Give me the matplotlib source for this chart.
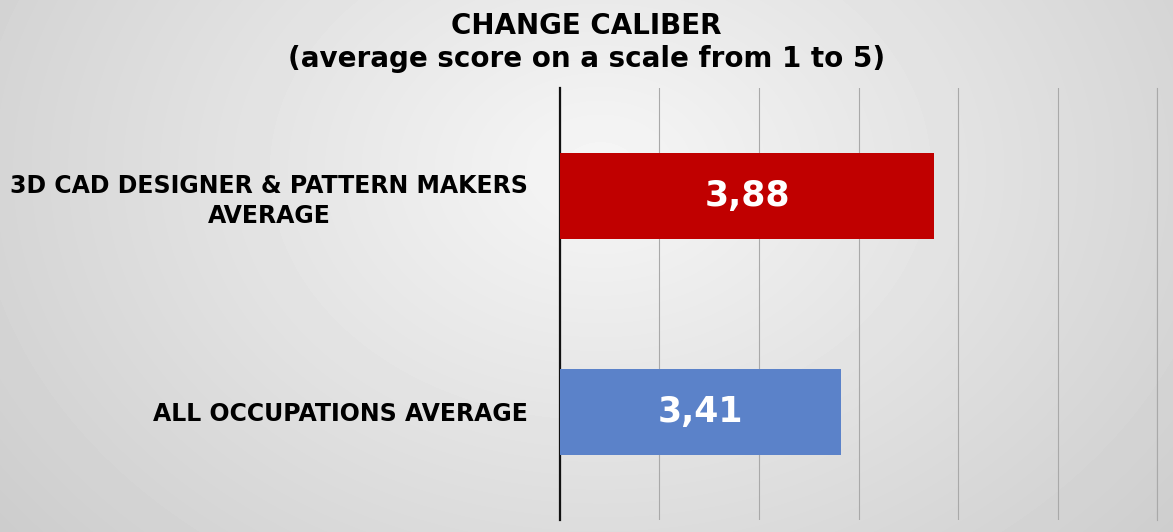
import numpy as np
import matplotlib
matplotlib.use('Agg')
import matplotlib.pyplot as plt

categories = ['ALL OCCUPATIONS AVERAGE', '3D CAD DESIGNER & PATTERN MAKERS\nAVERAGE']
values = [3.41, 3.88]
value_labels = ['3,41', '3,88']
colors = ['#5b82c9', '#c00000']
x_start, x_end, x_step = 2, 5, 0.5

fig = plt.figure(figsize=(11.73, 5.32), dpi=100)

# radial grey background
bg = fig.add_axes([0, 0, 1, 1], zorder=-10)
yy, xx = np.mgrid[0:532, 0:1173]
r = np.sqrt(((xx - 600) / 1173.0) ** 2 + ((yy - 170) / 532.0 * 0.6) ** 2)
shade = np.clip(0.965 - 0.25 * r, 0, 1)
bg.imshow(shade, cmap='gray', vmin=0, vmax=1, aspect='auto', interpolation='bilinear')
bg.axis('off')

ax = fig.add_axes([0.4774, 0.0226, 0.509, 0.812])
ax.patch.set_alpha(0)
ax.barh(range(len(values)), [v - x_start for v in values], left=x_start,
        height=0.4, color=colors, zorder=3)
for i, (v, lab) in enumerate(zip(values, value_labels)):
    ax.text((x_start + v) / 2, i, lab, ha='center', va='center', color='white',
            fontsize=25, fontweight='bold', family='DejaVu Sans', zorder=4)

ax.set_xlim(x_start, x_end)
ax.set_ylim(-0.5, 1.5)
ax.set_xticks(np.arange(x_start, x_end + 0.01, x_step))
ax.tick_params(axis='x', length=0, labelbottom=False)
ax.grid(axis='x', color='#a9a9a9', linewidth=0.8, zorder=0)
ax.axvline(x_end, color='#a9a9a9', linewidth=0.8, clip_on=False, zorder=0)
ax.set_yticks(range(len(categories)))
ax.set_yticklabels(categories, fontsize=17, fontweight='bold')
ax.tick_params(axis='y', length=0, pad=23)
for t in ax.get_yticklabels():
    t.set_multialignment('center')
    t.set_linespacing(1.3)
for s in ['top', 'right', 'bottom']:
    ax.spines[s].set_visible(False)
ax.spines['left'].set_linewidth(1.6)
ax.spines['left'].set_color('#111111')

fig.text(0.5, 1 - 34 / 532, 'CHANGE CALIBER', ha='center', va='baseline',
         fontsize=20, fontweight='bold')
fig.text(0.5, 1 - 67 / 532, '(average score on a scale from 1 to 5)', ha='center',
         va='baseline', fontsize=20, fontweight='bold')

fig.savefig('out.png', dpi=100)
